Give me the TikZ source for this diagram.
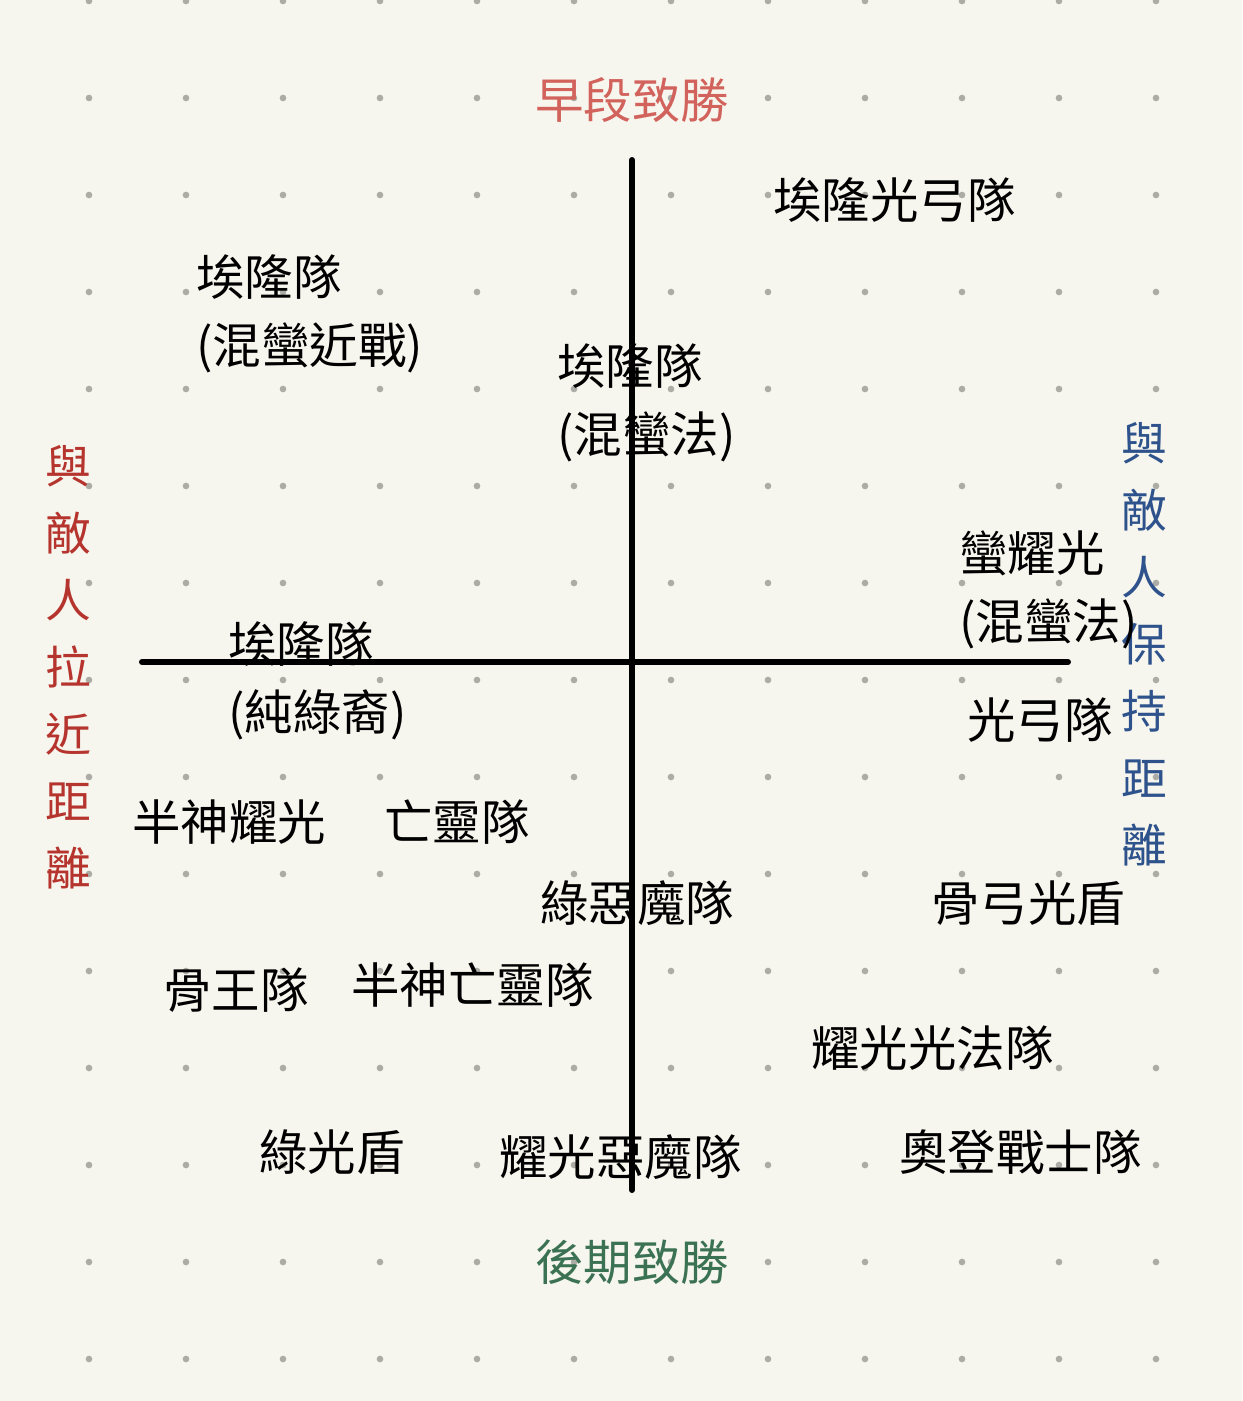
\documentclass[tikz,border=0pt]{standalone}
\usepackage{fontspec}
\usepackage{xcolor}
\newfontfamily\cjk{Noto Sans CJK TC}
\definecolor{bg}{RGB}{247,246,238}
\definecolor{dt}{RGB}{172,172,166}
\definecolor{er}{RGB}{210,98,92}
\definecolor{lt}{RGB}{60,114,84}
\definecolor{nr}{RGB}{182,52,46}
\definecolor{fr}{RGB}{46,82,140}

\begin{document}
\begin{tikzpicture}[x=0.02cm,y=-0.02cm,
        team/.style={anchor=west,inner sep=0pt,align=left,font=\cjk\fontsize{27.6pt}{38.7pt}\selectfont},
        side/.style={inner sep=0pt,align=center,font=\cjk\fontsize{26pt}{38.1pt}\selectfont}]
        \fill[bg] (0,0) rectangle (1242,1401);
        \useasboundingbox (0,0) rectangle (1242,1401);
        \foreach \i in {0,...,11}
            \foreach \j in {0,...,14}
                \fill[dt] (89+97*\i,1+97*\j) circle[radius=1.9pt];
        \begin{scope}
            \coordinate (T) at (632,160);
            \coordinate (B) at (632,1190);
            \coordinate (L) at (142,662);
            \coordinate (R) at (1068,662);
            \draw[line width=3.4pt,line cap=round] (T) -- (B);
            \draw[line width=3.4pt,line cap=round] (L) -- (R);
        \end{scope}
        \node[team,anchor=center,text=er] (early) at (632,100){早段致勝};
        \node[team,anchor=center,text=lt] (late) at (632,1262){後期致勝};
        \node[side,text=nr] (near) at (68,667){與\\敵\\人\\拉\\近\\距\\離};
        \node[side,text=fr] (far) at (1144,644){與\\敵\\人\\保\\持\\距\\離};
        \node[team] (elonbow) at (773,200){埃隆光弓隊};
        \node[team] (elonmelee) at (196,314){埃隆隊\\(混蠻近戰)};
        \node[team] (elonmage) at (557,403){埃隆隊\\(混蠻法)};
        \node[team] (barbglow) at (959,590){蠻耀光\\(混蠻法)};
        \node[team] (elongreen) at (228,681){埃隆隊\\(純綠裔)};
        \node[team] (glowbow) at (967,720){光弓隊};
        \node[team] (demiglow) at (132,822){半神耀光};
        \node[team] (undead) at (384,822){亡靈隊};
        \node[team] (greendemon) at (540,903){綠惡魔隊};
        \node[team] (bonebow) at (931,903){骨弓光盾};
        \node[team] (boneking) at (163,990){骨王隊};
        \node[team] (demiundead) at (351,985){半神亡靈隊};
        \node[team] (glowmage) at (811,1048){耀光光法隊};
        \node[team] (greenshield) at (259,1152){綠光盾};
        \node[team] (glowdemon) at (499,1157){耀光惡魔隊};
        \node[team] (odin) at (899,1152){奧登戰士隊};
    \end{tikzpicture}
\end{document}
